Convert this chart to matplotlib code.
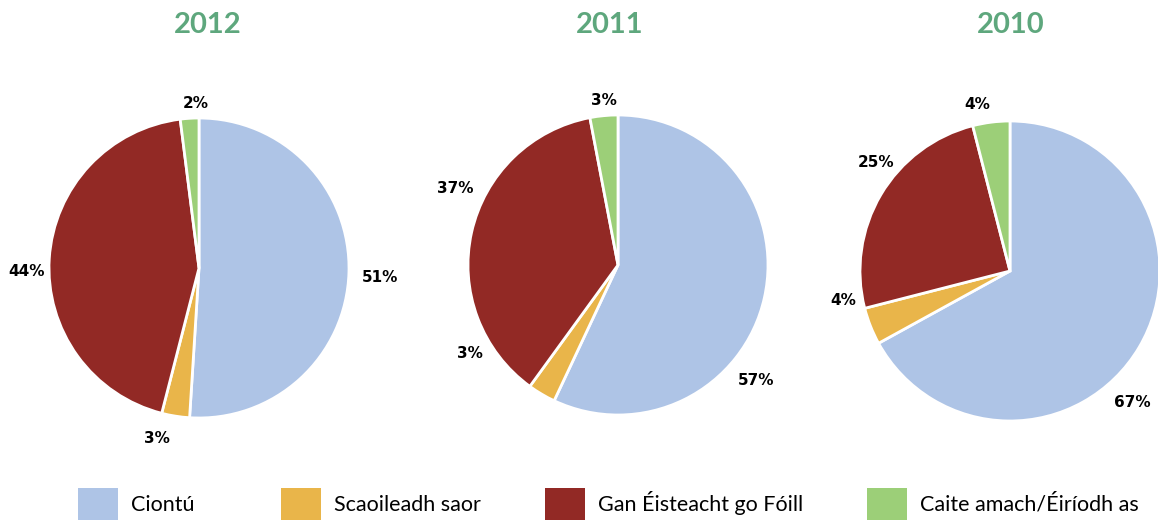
import numpy as np
import matplotlib.pyplot as plt
from matplotlib.patches import Patch

plt.rcParams['font.family'] = ['Lato', 'DejaVu Sans']

# categories and values (percent), order clockwise from 12 o'clock
categories = ['Ciontú', 'Scaoileadh saor', 'Gan Éisteacht go Fóill', 'Caite amach/Éiríodh as']
years = ['2012', '2011', '2010']
values_2012 = [51, 3, 44, 2]
values_2011 = [57, 3, 37, 3]
values_2010 = [67, 4, 25, 4]
all_values = [values_2012, values_2011, values_2010]

# where the data labels sit (angle in degrees, distance in pie radii), best-fit style
label_pos = [
    [(-3, 1.21), (-104, 1.17), (181, 1.15), (91, 1.10)],
    [(-40, 1.20), (-149, 1.15), (155, 1.20), (95, 1.10)],
    [(-47, 1.20), (-170, 1.13), (141, 1.15), (101, 1.13)],
]

colors = ['#aec4e6', '#e9b54a', '#922925', '#9ccf78']
title_color = '#5ea77d'

W, H = 1158, 520
fig = plt.figure(figsize=(W / 100, H / 100), dpi=100)

# pie centers / radius in pixels
centers = [(199, 268), (618, 265), (1010, 271)]
radius = 150
title_x = [208, 610, 1011]

for i, (vals, yr) in enumerate(zip(all_values, years)):
    cx, cy = centers[i]
    ax = fig.add_axes([(cx - radius) / W, 1 - (cy + radius) / H,
                       2 * radius / W, 2 * radius / H])
    wedges, texts, autotexts = ax.pie(
        vals, colors=colors, startangle=90, counterclock=False,
        autopct='%d%%', pctdistance=1.17,
        wedgeprops=dict(edgecolor='white', linewidth=2),
        textprops=dict(fontsize=11, fontweight='bold', color='black',
                       family='DejaVu Sans'))
    for t, (ang, d) in zip(autotexts, label_pos[i]):
        a = np.deg2rad(ang)
        t.set_position((d * np.cos(a), d * np.sin(a)))
    ax.set_xlim(-1, 1)
    ax.set_ylim(-1, 1)
    ax.set_aspect('equal')
    ax.axis('off')
    fig.text(title_x[i] / W, 1 - 25 / H, yr, ha='center', va='center',
             fontsize=21, fontweight='bold', color=title_color)

# legend: one entry per slot, slots placed like the original
legend_x = [78, 281, 545, 867]
for c, lab, lx in zip(colors, categories, legend_x):
    fig.legend([Patch(facecolor=c, edgecolor='none')], [lab], loc='lower left',
               bbox_to_anchor=(lx / W, 0.0), frameon=False, fontsize=15.5,
               handlelength=1.86, handleheight=1.9, handletextpad=0.6,
               borderpad=0, borderaxespad=0)

fig.savefig('out.png', dpi=100)
